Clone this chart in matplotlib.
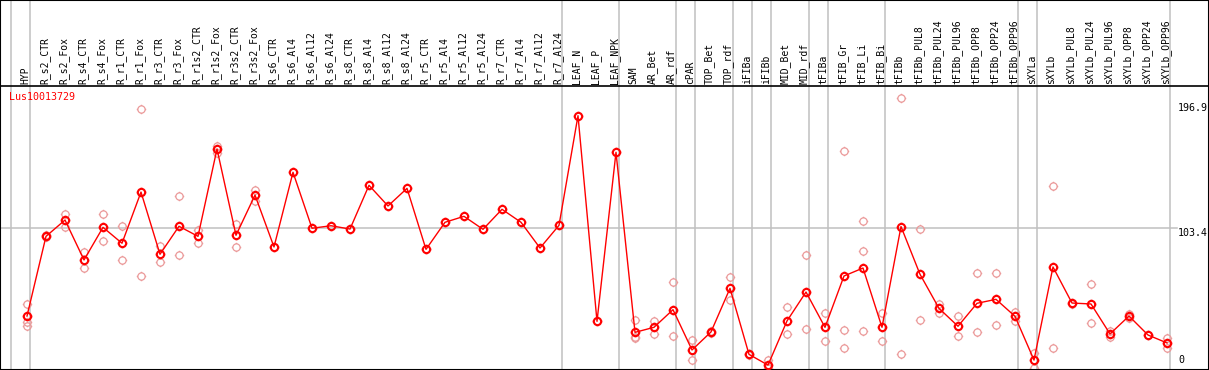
import numpy as np
import matplotlib
matplotlib.use('Agg')
import matplotlib.pyplot as plt
from matplotlib.path import Path
import matplotlib.transforms as mtransforms

# libellés des conditions
samples = ['HYP', 'R_s2_CTR', 'R_s2_Fox', 'R_s4_CTR', 'R_s4_Fox', 'R_r1_CTR', 'R_r1_Fox',
           'R_r3_CTR', 'R_r3_Fox', 'R_r1s2_CTR', 'R_r1s2_Fox', 'R_r3s2_CTR', 'R_r3s2_Fox',
           'R_s6_CTR', 'R_s6_Al4', 'R_s6_Al12', 'R_s6_Al24', 'R_s8_CTR', 'R_s8_Al4',
           'R_s8_Al12', 'R_s8_Al24', 'R_r5_CTR', 'R_r5_Al4', 'R_r5_Al12', 'R_r5_Al24',
           'R_r7_CTR', 'R_r7_Al4', 'R_r7_Al12', 'R_r7_Al24', 'LEAF_N', 'LEAF_P', 'LEAF_NPK',
           'SAM', 'AR_Bet', 'AR_rdf', 'cPAR', 'TOP_Bet', 'TOP_rdf', 'iFIBa', 'iFIBb',
           'MID_Bet', 'MID_rdf', 'tFIBa', 'tFIB_Gr', 'tFIB_Li', 'tFIB_Bi', 'tFIBb',
           'tFIBb_PUL8', 'tFIBb_PUL24', 'tFIBb_PUL96', 'tFIBb_OPP8', 'tFIBb_OPP24',
           'tFIBb_OPP96', 'sXYLa', 'sXYLb', 'sXYLb_PUL8', 'sXYLb_PUL24', 'sXYLb_PUL96',
           'sXYLb_OPP8', 'sXYLb_OPP24', 'sXYLb_OPP96']

# moyennes (ligne rouge)
means = [37.0, 97.1, 109.4, 79.3, 103.9, 91.9, 130.5, 83.6, 104.7, 97.1, 163.0, 97.9, 128.2,
         89.1, 145.4, 103.2, 105.1, 102.6, 135.6, 120.0, 133.3, 87.3, 107.7, 112.2, 102.4,
         117.5, 107.7, 88.3, 105.4, 188.1, 33.0, 160.5, 24.7, 28.5, 41.8, 11.4, 25.0, 57.9,
         8.1, 0.0, 33.3, 55.1, 28.5, 67.2, 73.2, 28.5, 104.5, 68.5, 42.8, 29.3, 46.6, 49.6,
         36.8, 3.8, 74.0, 46.8, 46.1, 23.5, 37.0, 22.7, 16.7]

# replicats (cercles roses)
replicates = [[45.9, 32.7, 29.7], [98.0, 96.5], [113.7, 104.4], [85.5, 73.0], [113.7, 93.6],
              [104.7, 79.3], [193.1, 67.2], [89.8, 77.5], [127.3, 83.0], [102.1, 91.9],
              [165.5, 159.7], [106.4, 89.1], [132.1, 124.0],
              [], [], [], [], [], [], [], [], [], [], [], [], [], [], [], [],
              [], [], [],
              [33.8, 21.4, 20.2], [33.3, 23.7], [62.4, 21.7], [18.7, 3.8], [25.7, 24.2],
              [66.2, 49.3], [8.7, 7.6], [4.1, -2.2], [43.6, 23.2], [83.0, 27.0],
              [39.3, 18.2], [161.2, 26.2, 13.1], [108.4, 85.8, 25.5], [39.3, 18.2],
              [201.2, 8.1], [102.4, 33.8], [45.9, 39.5], [36.8, 21.7], [69.2, 24.7],
              [69.7, 30.2], [40.3, 33.3], [8.9, -2.4], [135.1, 12.7], [45.9],
              [61.2, 31.7], [25.9, 21.2], [38.5, 35.3], [22.4], [20.2, 12.7]]

# fin de chaque groupe (traits verticaux)
group_ends = [-1, 0, 28, 31, 34, 35, 37, 38, 39, 41, 42, 45, 52, 53, 60]
yticks = [196.9, 103.4, 0]
gene = 'Lus10013729'

# marqueur: cercle avec petites encoches
circ = Path.circle((0, 0), 1.0)
ticks = []
codes = []
for dx, dy in [(1, 0), (-1, 0), (0, 1), (0, -1)]:
    ticks += [(dx * 1.0, dy * 1.0), (dx * 1.3, dy * 1.3)]
    codes += [Path.MOVETO, Path.LINETO]
marker = Path.make_compound_path(circ, Path(ticks, codes))

fig = plt.figure(figsize=(12.09, 3.70), dpi=100)
ax = fig.add_axes([0, 0, 1, 1])

W, H = 1209.0, 370.0
x0, dxp = 27.0, 19.0
y0, dyp = 365.1, 1.326
ax.set_xlim((0 - x0) / dxp, (W - x0) / dxp)
ax.set_ylim((y0 - H) / dyp, y0 / dyp)

for s in ax.spines.values():
    s.set_linewidth(1.5)
    s.set_color('black')
ax.set_xticks([])
ax.set_yticks([])

trans = mtransforms.blended_transform_factory(ax.transData, ax.transAxes)

# grille
for g in group_ends:
    ax.axvline(g + 0.18, color='#c0c0c0', lw=1.1, zorder=1)
ax.plot([(0 - x0) / dxp, (1177 - x0) / dxp], [103.4, 103.4], color='#c0c0c0', lw=1.1, zorder=1)
sep = 1 - 86.0 / H
ax.plot([0, 1], [sep, sep], color='black', lw=1.2, transform=ax.transAxes, zorder=3)

xs = np.arange(len(samples))
for i, reps in enumerate(replicates):
    if reps:
        ax.plot([xs[i]] * len(reps), reps, linestyle='none', marker=marker, markersize=6.8,
                markerfacecolor='none', markeredgecolor='#eb9a9a', markeredgewidth=0.9, zorder=2)

ax.plot(xs, means, color='red', lw=1.0, zorder=4)
ax.plot(xs, means, linestyle='none', marker=marker, markersize=6.8, markerfacecolor='none',
        markeredgecolor='red', markeredgewidth=1.5, zorder=5)

# libellés verticaux
for i, lab in enumerate(samples):
    ax.text(xs[i] - 0.08, 1 - 83.5 / H, lab, rotation=90, ha='center', va='bottom',
            fontsize=7, family='DejaVu Sans Mono', transform=trans)

ax.text((9 - x0) / dxp, 1 - 97 / H, gene, color='red', fontsize=7.2, family='DejaVu Sans Mono',
        ha='left', va='center', transform=trans)

xr = (1178 - x0) / dxp
ax.text(xr, yticks[0] + 0.5, '%.1f' % yticks[0], fontsize=7.2, family='DejaVu Sans Mono',
        ha='left', va='top')
ax.text(xr, yticks[1] - 0.3, '%.1f' % yticks[1], fontsize=7.2, family='DejaVu Sans Mono',
        ha='left', va='top')
ax.text(xr, yticks[2], '%d' % yticks[2], fontsize=7.2, family='DejaVu Sans Mono',
        ha='left', va='bottom')

plt.savefig('out.png', dpi=100)
